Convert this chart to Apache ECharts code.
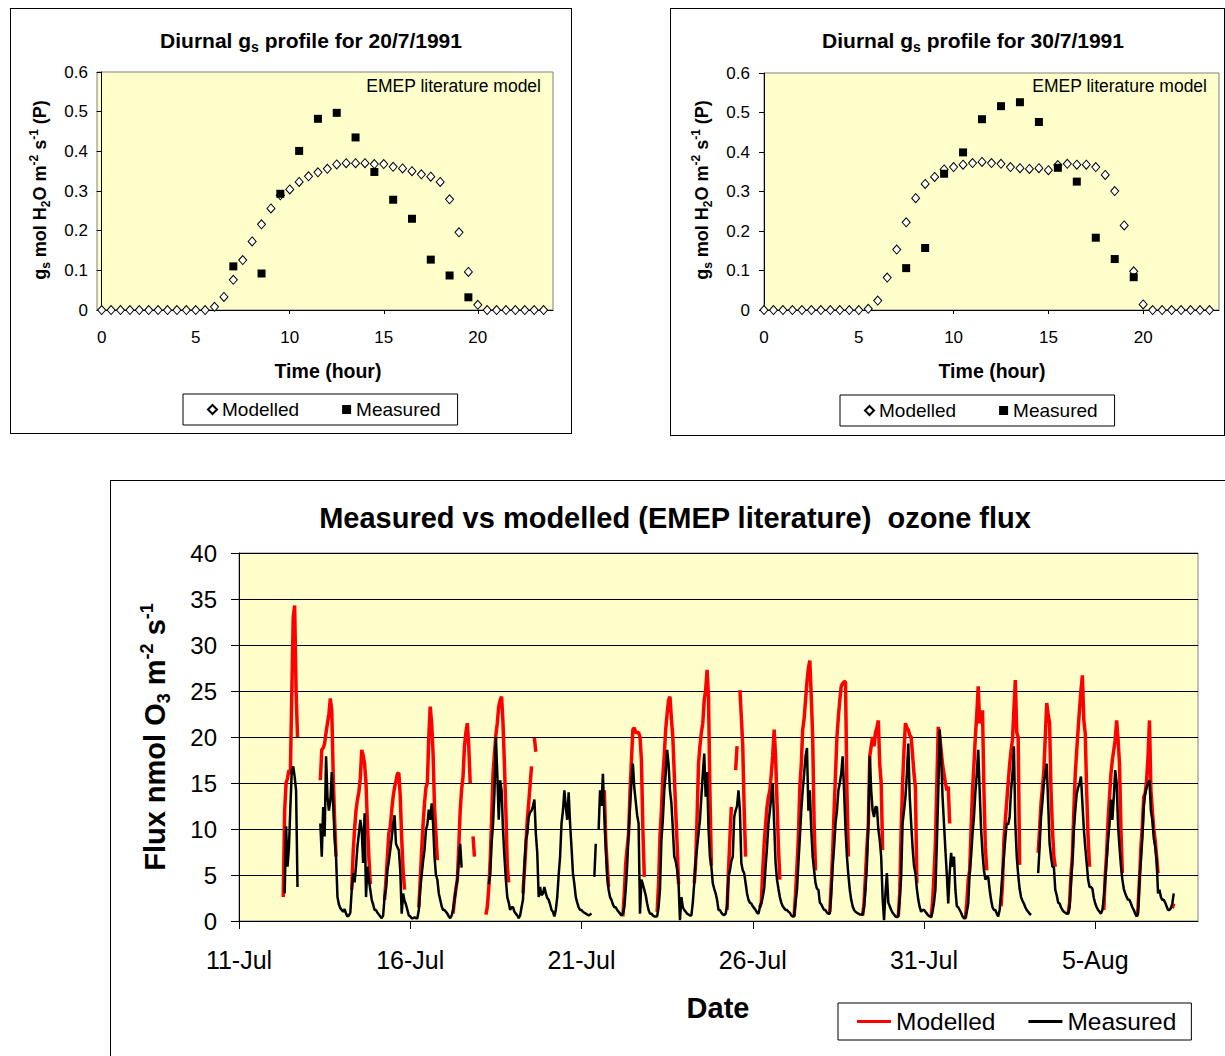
<!DOCTYPE html>
<html><head><meta charset="utf-8">
<script src="https://cdn.jsdelivr.net/npm/echarts@6/dist/echarts.min.js"></script>
<style>
html,body{margin:0;padding:0;background:#fff;overflow:hidden;width:1225px;height:1056px;}
.box{position:absolute;border:1px solid #000;box-sizing:border-box;background:#fff;}
</style></head><body>
<div id="c1" class="box" style="left:10px;top:8px;width:562px;height:426px"></div>
<div id="c2" class="box" style="left:670px;top:8px;width:555px;height:428px"></div>
<div id="c3" class="box" style="left:110px;top:480px;width:1130px;height:600px"></div>
<script>
const _ = null;
// ---------- Diurnal gs profiles ----------
const halfHours = [0,0.5,1,1.5,2,2.5,3,3.5,4,4.5,5,5.5,6,6.5,7,7.5,8,8.5,9,9.5,10,10.5,11,11.5,12,12.5,13,13.5,14,14.5,15,15.5,16,16.5,17,17.5,18,18.5,19,19.5,20,20.5,21,21.5,22,22.5,23,23.5];
const modelled20Jul = [0,0,0,0,0,0,0,0,0,0,0,0,0.008,0.033,0.076,0.126,0.173,0.216,0.256,0.289,0.304,0.323,0.337,0.347,0.356,0.367,0.370,0.370,0.370,0.368,0.368,0.361,0.357,0.350,0.342,0.336,0.323,0.279,0.196,0.096,0.013,0,0,0,0,0,0,0];
const measuredHours20Jul = [7,8.5,9.5,10.5,11.5,12.5,13.5,14.5,15.5,16.5,17.5,18.5,19.5];
const measured20Jul = [0.110,0.092,0.293,0.401,0.482,0.497,0.435,0.348,0.278,0.230,0.127,0.087,0.032];
const modelled30Jul = [0,0,0,0,0,0,0,0,0,0,0,0.003,0.024,0.082,0.153,0.222,0.283,0.319,0.337,0.356,0.362,0.368,0.372,0.375,0.372,0.370,0.362,0.359,0.357,0.359,0.354,0.367,0.370,0.368,0.368,0.362,0.342,0.301,0.214,0.098,0.014,0,0,0,0,0,0,0];
const measuredHours30Jul = [7.5,8.5,9.5,10.5,11.5,12.5,13.5,14.5,15.5,16.5,17.5,18.5,19.5];
const measured30Jul = [0.106,0.157,0.345,0.399,0.483,0.516,0.526,0.476,0.360,0.325,0.183,0.129,0.083];
const hourTicks = [0,5,10,15,20];

// ---------- Ozone flux time series (hourly, days from 11-Jul) ----------
const dateTickValues = [0,5,10,15,20,25];
const dateTickLabels = ['11-Jul','16-Jul','21-Jul','26-Jul','31-Jul','5-Aug'];
const firstDataDay = 1; // 12-Jul
const modelledFluxByDay = [
[_,_,_,_,_,_,_,2.6,12.0,15.0,15.5,16.4,16.0,24.8,33.0,34.3,25.0,20.0,_,_,_,_,_,_],
[_,_,_,_,_,_,_,_,_,15.3,18.6,18.8,19.3,20.5,21.5,22.5,24.2,22.9,16.0,11.0,7.0,_,_,_],
[_,_,_,_,_,_,_,3.4,7.5,10.0,12.0,13.2,14.0,15.5,18.6,18.0,17.1,15.0,10.5,7.0,4.0,_,_,_],
[_,_,_,_,_,_,2.3,4.5,7.0,9.5,10.3,12.0,13.5,14.5,15.2,16.0,16.1,13.5,9.0,5.5,3.4,_,_,_],
[_,_,_,_,_,_,1.5,4.5,7.7,10.5,12.8,14.5,15.0,20.0,23.3,21.5,18.2,12.4,9.5,6.6,_,_,_,_],
[_,_,_,_,_,_,0.8,2.3,3.5,4.5,8.0,12.0,14.3,15.7,19.0,20.5,21.5,19.0,15.0,_,9.2,7.0,_,_],
[_,_,_,_,_,0.7,1.5,3.5,6.5,11.0,16.0,18.2,20.2,21.5,23.3,24.0,24.4,21.5,17.0,12.0,6.0,4.2,_,_],
[_,_,_,_,_,_,_,3.0,5.5,8.0,11.0,12.8,14.8,16.8,_,19.9,18.4,_,_,_,_,_,_,_],
[_,_,_,_,_,_,_,_,_,_,_,_,_,_,_,_,_,_,_,_,_,_,_,_],
[_,_,_,_,_,_,_,_,_,_,_,_,_,_,_,_,14.2,8.8,6.0,3.7,_,_,_,_],
[_,_,_,_,_,0.5,3.0,6.3,8.0,9.5,14.0,17.5,20.8,21.0,20.5,20.5,20.5,20.0,17.5,10.0,4.8,_,_,_],
[_,_,_,_,_,1.0,4.0,9.2,12.0,15.7,18.0,20.8,22.5,24.0,24.4,22.0,20.0,16.0,12.0,8.4,4.0,_,_,_],
[_,_,_,_,_,_,_,4.1,6.3,11.3,17.1,19.0,20.5,21.5,24.0,25.1,27.3,24.4,14.0,6.0,_,_,_,_],
[_,_,_,_,_,_,1.2,5.5,9.0,12.4,_,_,16.4,19.0,_,25.1,22.2,19.0,12.0,7.0,_,_,_,_],
[_,_,_,_,_,1.5,2.0,5.5,8.4,10.5,12.4,13.5,14.2,16.0,18.0,20.8,17.9,13.0,8.0,4.5,_,_,_,_],
[_,_,_,_,_,0.5,3.0,6.0,9.2,14.6,17.0,20.8,22.0,24.0,26.0,27.5,28.3,24.4,20.0,10.6,5.5,_,_,_],
[_,_,_,_,_,_,1.0,4.0,7.4,12.0,16.0,20.0,22.2,24.0,25.5,25.8,26.0,26.0,14.2,7.0,_,_,_,_],
[_,_,_,_,_,0.6,2.0,5.0,8.0,10.6,17.9,19.0,20.0,19.0,20.5,21.0,21.8,17.0,15.0,7.7,_,_,_,_],
[_,_,_,_,_,_,0.5,3.0,9.9,15.0,18.6,21.5,21.0,20.8,20.2,20.0,18.0,16.0,14.5,4.1,_,_,_,_],
[_,_,_,_,_,0.5,2.0,5.0,8.4,15.0,21.1,20.0,18.6,17.0,16.0,15.0,14.2,14.6,10.6,_,_,_,_,_],
[_,_,_,_,_,0.3,2.0,4.5,5.5,10.0,14.2,17.0,20.0,22.5,25.5,21.5,22.0,22.9,14.2,8.0,5.5,_,_,_],
[_,_,_,_,_,_,1.6,4.0,8.8,11.0,13.0,15.0,17.0,18.5,19.7,23.0,26.2,20.5,20.0,6.1,_,_,_,_],
[_,_,_,_,_,_,_,_,7.4,10.0,12.8,14.5,16.4,20.0,23.7,22.5,21.5,14.2,10.0,7.0,5.9,_,_,_],
[_,_,_,_,_,0.8,2.0,5.0,7.2,12.0,16.0,18.5,20.8,23.0,25.1,26.7,21.8,20.4,14.0,9.0,5.9,_,_,_],
[_,_,_,_,_,_,1.2,5.0,7.4,11.0,13.5,16.0,17.5,18.6,19.7,21.8,19.7,17.1,10.0,5.2,_,_,_,_],
[_,_,_,_,_,0.5,1.5,4.5,8.0,10.3,13.5,13.9,15.3,17.9,21.8,14.2,12.0,10.0,8.8,7.0,5.2,_,_,_],
[_,_,_,_,_,_,1.4,1.9]
];
const measuredFluxByDay = [
[_,_,_,_,_,_,_,_,3.0,10.3,5.9,8.0,12.4,16.4,16.8,15.7,14.2,3.7,_,_,_,_,_,_],
[_,_,_,_,_,_,_,_,_,10.6,7.0,12.4,9.2,17.9,13.5,12.0,13.0,16.2,12.8,9.0,7.0,2.6,1.8,1.4],
[1.2,1.0,1.3,0.8,0.5,0.6,0.9,3.4,5.2,4.2,6.0,8.1,9.5,11.0,9.9,6.3,11.7,2.6,5.9,4.5,3.4,2.3,1.8,1.2],
[1.2,0.9,0.7,0.5,0.3,0.6,2.6,3.5,5.5,6.5,7.7,9.0,10.5,11.5,8.4,8.0,7.7,5.5,0.8,3.0,2.2,1.8,1.2,0.6],
[0.5,0.3,0.3,0.4,0.3,0.3,1.2,3.4,5.0,6.5,7.7,9.9,10.5,12.1,11.0,12.8,10.6,7.0,5.0,4.5,3.0,2.3,1.6,1.2],
[1.2,1.0,0.8,0.5,0.3,0.6,1.2,2.3,3.5,4.5,6.5,8.4,5.8,_,_,_,_,_,_,_,_,_,_,_],
[_,_,_,_,_,_,_,4.0,5.0,8.4,10.5,14.0,20.0,16.0,11.0,15.3,14.2,9.9,7.0,4.5,2.6,2.0,1.2,1.5],
[1.5,1.0,0.8,0.6,0.3,0.6,1.5,2.3,5.9,8.8,9.5,11.3,11.8,12.0,12.5,13.2,9.5,7.4,2.6,3.7,2.8,3.0,3.7,3.0],
[2.5,2.3,1.8,1.2,1.0,0.5,1.2,2.6,5.0,7.0,10.6,12.0,14.2,12.4,11.0,14.0,10.6,8.0,5.2,4.0,2.6,2.0,1.5,1.2],
[1.2,1.0,0.9,0.8,0.7,0.6,0.7,0.8,_,4.8,8.4,_,9.9,14.2,12.5,16.0,11.5,8.0,4.8,3.4,2.6,2.3,1.8,1.5],
[1.5,1.2,1.0,0.8,0.6,0.8,1.5,3.4,6.0,9.5,12.5,15.0,17.1,14.5,13.0,11.5,10.6,0.8,4.5,4.0,3.4,2.8,1.9,1.2],
[0.8,0.8,0.6,0.5,0.5,0.5,1.5,3.4,8.8,11.0,14.2,16.0,18.6,17.1,14.2,12.8,10.0,7.0,6.5,5.6,4.1,0.1,2.6,1.5],
[1.2,1.0,0.8,0.7,0.6,0.6,2.0,4.1,6.5,8.0,9.5,11.0,13.5,16.0,18.2,13.5,16.2,10.0,7.0,5.9,4.1,3.5,3.0,2.3],
[1.2,1.2,0.9,0.7,0.65,0.8,1.6,4.8,5.5,6.5,7.0,11.3,12.0,12.5,14.2,12.0,6.3,5.5,5.2,4.1,3.0,2.3,2.0,1.9],
[1.6,1.4,1.2,0.9,0.8,1.5,2.0,2.6,3.5,5.9,8.0,10.6,12.0,13.5,15.0,10.6,6.3,4.5,3.5,2.6,2.0,1.6,1.4,1.2],
[1.2,1.0,0.9,0.6,0.5,0.5,2.0,3.4,6.3,9.0,12.0,14.2,16.0,17.9,18.8,12.0,14.2,9.9,7.0,5.5,4.1,3.5,3.4,2.0],
[1.8,1.5,1.2,1.2,0.9,0.8,0.8,3.0,5.9,8.0,10.6,12.0,14.2,15.0,16.0,17.9,14.2,10.0,7.0,5.0,3.4,2.3,1.6,1.2],
[1.0,0.9,0.8,0.7,0.7,0.65,1.5,3.4,6.0,10.6,17.9,14.2,12.0,11.3,12.4,12.4,10.0,8.8,7.0,2.5,0.1,3.0,5.2,2.0],
[1.6,1.2,0.9,0.7,0.5,0.4,0.5,2.5,4.8,10.6,12.0,13.5,16.0,19.3,13.5,10.6,8.0,6.0,5.2,3.5,2.3,1.5,1.0,1.2],
[1.2,1.0,0.8,0.6,0.5,0.4,1.0,2.0,3.4,8.4,14.0,20.8,17.9,13.5,10.6,7.7,5.0,1.9,5.2,7.4,5.9,7.0,3.4,1.6],
[1.5,1.2,0.9,0.5,0.3,0.3,1.0,1.9,5.2,7.0,9.5,11.3,14.0,16.0,18.6,14.2,10.0,7.4,5.5,4.5,4.8,4.8,3.4,2.3],
[1.5,1.2,1.2,0.8,0.5,1.2,3.0,5.2,7.0,9.0,10.6,10.5,11.3,14.2,16.0,19.0,10.6,7.0,5.0,3.5,2.6,2.2,1.9,1.5],
[1.2,1.0,0.8,0.65,_,_,_,_,5.2,8.0,11.3,13.0,15.0,16.0,17.1,12.8,8.4,7.0,5.9,5.9,3.4,2.8,2.0,1.9],
[1.5,1.2,1.0,0.9,0.8,0.8,1.5,4.1,6.5,9.9,12.0,13.8,14.5,15.0,15.7,12.8,10.0,8.0,6.3,4.5,3.7,3.7,3.5,2.5],
[1.9,1.5,1.2,1.0,0.8,1.2,2.5,4.5,6.6,8.8,10.5,13.2,11.0,13.5,16.4,15.0,10.3,8.0,6.0,4.5,3.5,3.0,2.6,2.3],
[2.3,1.9,1.5,1.2,0.8,0.5,0.8,4.5,6.6,9.0,12.4,13.9,14.5,15.0,15.3,12.0,11.0,9.0,8.1,6.6,3.0,3.4,2.6,2.3],
[2.3,2.0,1.6,1.2,1.2,1.4,1.9,3.0]
];

// ---------- helpers ----------
const FONT = "'Liberation Sans', Arial, Helvetica, sans-serif";
function richSet(size, subSize) {
  return {
    b: {fontSize: size, fontWeight: 'bold', fontFamily: FONT, color: '#000', lineHeight: size + 6},
    n: {fontSize: size, fontFamily: FONT, color: '#000', lineHeight: size + 6},
    bs: {fontSize: subSize, fontWeight: 'bold', fontFamily: FONT, color: '#000', verticalAlign: 'bottom', lineHeight: subSize},
    bsup: {fontSize: subSize, fontWeight: 'bold', fontFamily: FONT, color: '#000', verticalAlign: 'top', lineHeight: subSize}
  };
}
function label(text, x, y, size, subSize, opts) {
  opts = opts || {};
  return {
    type: 'text', x: x, y: y, rotation: opts.rotation || 0, z: 100,
    style: {
      text: text, rich: richSet(size, subSize), x: 0, y: 0,
      align: opts.align || 'center', verticalAlign: 'middle',
      textAlign: opts.align || 'center', textVerticalAlign: 'middle'
    }
  };
}
function toSeries(byDay) {
  const out = [];
  byDay.forEach((day, i) => day.forEach((v, h) => out.push([firstDataDay + i + h / 24, v === null ? '-' : v])));
  return out;
}

function diurnalOption(dateText, modelled, mHours, measured, L) {
  return {
    animation: false,
    textStyle: {fontFamily: FONT},
    grid: {left: L.gl, top: L.gt, width: L.gw, height: L.gh, show: true, backgroundColor: '#FFFFCC', borderColor: '#808080', borderWidth: 1},
    xAxis: {
      type: 'value', min: L.xmin, max: 24,
      axisLine: {lineStyle: {color: '#000', width: 1}},
      axisTick: {show: true, length: 4, customValues: hourTicks, lineStyle: {color: '#000'}},
      axisLabel: {customValues: hourTicks, fontSize: 17, color: '#000', margin: 19, fontFamily: FONT},
      splitLine: {show: false}
    },
    yAxis: {
      type: 'value', min: 0, max: 0.6, interval: 0.1,
      axisLine: {show: true, lineStyle: {color: '#000', width: 1}},
      axisTick: {show: true, length: 5, lineStyle: {color: '#000'}},
      axisLabel: {fontSize: 17, color: '#000', margin: L.ym, fontFamily: FONT},
      splitLine: {show: false}
    },
    legend: {
      data: ['Modelled', 'Measured'], selectedMode: false,
      left: L.lx, top: L.ly, padding: [6, 17, 6, 24], itemGap: 43,
      itemWidth: 9, itemHeight: 9, borderColor: '#000', borderWidth: 1,
      textStyle: {fontSize: 19, color: '#000', fontFamily: FONT}
    },
    graphic: [
      label('{b|Diurnal g}{bs|s}{b| profile for ' + dateText + '}', L.tx, 31, 21, 14),
      label('{n|EMEP literature model}', L.ex, 77, 17.5, 12, {align: 'right'}),
      label('{b|g}{bs|s}{b| mol H}{bs|2}{b|O m}{bsup|-2}{b| s}{bsup|-1}{b| (P)}', L.yx, 181, 18, 12, {rotation: Math.PI / 2}),
      label('{b|Time (hour)}', L.xx, 362, 19.5, 13)
    ],
    series: [
      {name: 'Modelled', type: 'scatter', symbol: 'diamond', symbolSize: [8, 9],
       itemStyle: {color: '#fff', borderColor: '#000', borderWidth: 1, opacity: 1},
       data: halfHours.map((h, i) => [h, modelled[i]])},
      {name: 'Measured', type: 'scatter', symbol: 'rect', symbolSize: 8,
       itemStyle: {color: '#000', opacity: 1},
       data: mHours.map((h, i) => [h, measured[i]])}
    ]
  };
}

const c1 = echarts.init(document.getElementById('c1'), null, {renderer: 'svg'});
c1.setOption(diurnalOption('20/7/1991', modelled20Jul, measuredHours20Jul, measured20Jul,
  {gl: 86, gt: 63, gw: 456, gh: 238, xmin: -0.25, ym: 9, lx: 172, ly: 385, tx: 300, ex: 530, yx: 29, xx: 317}));
const c2 = echarts.init(document.getElementById('c2'), null, {renderer: 'svg'});
c2.setOption(diurnalOption('30/7/1991', modelled30Jul, measuredHours30Jul, measured30Jul,
  {gl: 93, gt: 64, gw: 455, gh: 237, xmin: 0, ym: 14, lx: 169, ly: 386, tx: 302, ex: 536, yx: 31, xx: 321}));

const c3 = echarts.init(document.getElementById('c3'), null, {renderer: 'svg'});
c3.setOption({
  animation: false,
  textStyle: {fontFamily: FONT},
  grid: {left: 128, top: 72, width: 959, height: 368, show: true, backgroundColor: '#FFFFCC', borderColor: '#808080', borderWidth: 1},
  xAxis: {
    type: 'value', min: 0, max: 28,
    axisLine: {lineStyle: {color: '#000', width: 1}},
    axisTick: {show: true, length: 8, customValues: dateTickValues, lineStyle: {color: '#000'}},
    axisLabel: {customValues: dateTickValues, fontSize: 25, color: '#000', margin: 26, fontFamily: FONT,
      formatter: v => dateTickLabels[dateTickValues.indexOf(v)]},
    splitLine: {show: false}
  },
  yAxis: {
    type: 'value', min: 0, max: 40, interval: 5,
    axisLine: {show: true, lineStyle: {color: '#000', width: 1}},
    axisTick: {show: true, length: 8, lineStyle: {color: '#000'}},
    axisLabel: {fontSize: 24, color: '#000', margin: 22, fontFamily: FONT},
    splitLine: {show: true, lineStyle: {color: '#000', width: 1}}
  },
  legend: {
    data: [{name: 'Modelled', icon: 'rect'}, {name: 'Measured', icon: 'rect'}], selectedMode: false,
    left: 727, top: 522, padding: [6, 15, 6, 19], itemGap: 33,
    itemWidth: 34, itemHeight: 3, borderColor: '#000', borderWidth: 1,
    textStyle: {fontSize: 24.5, color: '#000', fontFamily: FONT}
  },
  graphic: [
    label('{b|Measured vs modelled (EMEP literature)  ozone flux}', 564, 37, 29, 18),
    label('{b|Flux nmol O}{bs|3}{b| m}{bsup|-2}{b| s}{bsup|-1}', 44, 256, 29, 18, {rotation: Math.PI / 2}),
    label('{b|Date}', 607, 527, 29, 18)
  ],
  series: [
    {name: 'Modelled', type: 'line', symbol: 'none', connectNulls: false,
     lineStyle: {color: '#FF0000', width: 3.5}, itemStyle: {color: '#FF0000'},
     data: toSeries(modelledFluxByDay)},
    {name: 'Measured', type: 'line', symbol: 'none', connectNulls: false,
     lineStyle: {color: '#000000', width: 2.5}, itemStyle: {color: '#000000'},
     data: toSeries(measuredFluxByDay)}
  ]
});
</script>
</body></html>
